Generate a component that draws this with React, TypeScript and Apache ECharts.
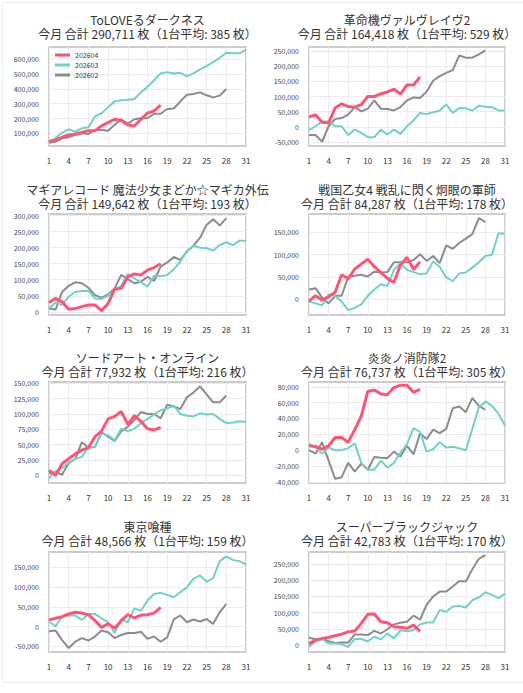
import React, { useEffect, useRef } from "react";
import * as echarts from "echarts";

const days = ["1","2","3","4","5","6","7","8","9","10","11","12","13","14","15","16","17","18","19","20","21","22","23","24","25","26","27","28","29","30","31"];
const seriesNames = ["202604", "202603", "202602"];
const seriesColors = ["#ff5574", "#6fd2ca", "#8c8c8c"];

const titles = [
  "ToLOVEるダークネス",
  "革命機ヴァルヴレイヴ2",
  "マギアレコード 魔法少女まどか☆マギカ外伝",
  "戦国乙女4 戦乱に閃く炯眼の軍師",
  "ソードアート・オンライン",
  "炎炎ノ消防隊2",
  "東京喰種",
  "スーパーブラックジャック",
];
const totals = [290711, 164418, 149642, 84287, 77932, 76737, 48566, 42783];
const averages = [385, 529, 193, 178, 216, 305, 159, 170];

// Panel 1
const p1Apr = [43000,55000,73000,89000,95000,105000,118000,118000,150000,173000,195000,186000,157000,150000,195000,236000,252000,290711];
const p1Mar = [43000,66000,105000,127000,111000,134000,141000,214000,236000,277000,316000,323000,327000,332000,377000,414000,459000,505000,514000,505000,509000,486000,505000,532000,555000,582000,611000,645000,641000,641000,664000];
const p1Feb = [36000,43000,66000,73000,89000,100000,95000,123000,123000,118000,157000,195000,164000,195000,202000,202000,232000,232000,264000,268000,316000,361000,366000,377000,357000,343000,355000,400000];
const p1Ticks = [100000,200000,300000,400000,500000,600000];
const p1Range = [14000, 684000];

// Panel 2
const p2Apr = [32600,40000,15000,13000,62000,76000,67000,65000,73000,100000,100000,109000,115000,124000,108000,138000,138000,164418];
const p2Mar = [-11000,2000,18000,18000,2000,2000,-27000,-9000,-20000,-34000,-34000,-9000,-25000,-9000,-23000,2000,22000,46000,42000,48000,53000,74000,46000,62000,61000,54000,70000,66000,65000,54000,54000];
const p2Feb = [-27000,-27000,-49000,2000,26000,29000,40000,65000,51000,60000,87000,60000,59000,54000,65000,87000,97000,95000,116000,152000,167000,178000,187000,235000,228000,228000,239000,252000];
const p2Ticks = [-50000,0,50000,100000,150000,200000,250000];
const p2Range = [-63000, 263000];

// Panel 3
const p3Apr = [28000,42000,31000,8000,10000,16000,21000,21000,4000,26000,70000,73000,109000,118000,115000,130000,138000,149642];
const p3Mar = [10000,29000,21000,47000,62000,65000,66000,42000,40000,50000,68000,81000,118000,104000,92000,78000,113000,111000,115000,133000,156000,190000,206000,200000,198000,191000,208000,217000,208000,222000,221000];
const p3Feb = [10000,7000,62000,81000,92000,89000,75000,52000,44000,54000,73000,115000,102000,89000,94000,109000,96000,141000,154000,171000,161000,188000,206000,231000,271000,289000,269000,292000];
const p3Ticks = [0,50000,100000,150000,200000,250000,300000];
const p3Range = [-10000, 305000];

// Panel 4
const p4Apr = [-4000,8000,-1500,6000,16000,55000,46000,68000,79000,90000,73000,60000,47000,38000,77000,94000,67000,84287];
const p4Mar = [-5000,-9000,-13000,11000,7500,-5000,-24000,-19000,-11000,8000,22000,34000,30000,66000,81000,66000,61000,56000,58000,85000,73000,49000,41000,58000,60000,71000,83000,97000,100000,148000,147000];
const p4Feb = [22000,25000,4000,-9000,8000,8000,51000,53000,55000,51000,62000,60000,61000,83000,83000,83000,88000,101000,86000,97000,81000,121000,113000,126000,136000,146000,182000,173000];
const p4Ticks = [0,50000,100000,150000];
const p4Range = [-35000, 191000];

// Panel 5
const p5Apr = [8000,0,19000,27000,35000,41000,45000,63000,72000,92000,96000,104000,83000,97000,88000,76000,74000,77932];
const p5Mar = [-5000,6500,12000,21000,27000,30000,46000,46000,68000,65000,57000,76000,72000,76000,85000,92000,99000,106000,109000,113000,100000,97000,96000,101000,99000,100000,92000,85000,86000,88000,87000];
const p5Feb = [3000,5500,1000,20000,27000,54000,45000,46000,70000,63000,56000,72000,79000,90000,103000,100000,100000,93000,115000,112000,108000,127000,135000,145000,132000,119000,119000,130000];
const p5Ticks = [0,25000,50000,75000,100000,125000,150000];
const p5Range = [-12500, 152000];

// Panel 6
const p6Apr = [5600,4700,1300,5600,16000,16000,10000,26000,43000,74000,76000,71000,70000,79000,82000,82000,73000,76737];
const p6Mar = [8000,3400,-4300,3400,0,0,2600,8600,-16000,-24500,-24500,-13000,-22000,-16000,-3000,7700,28000,23000,-1700,1300,10000,3400,4300,2600,0,27000,54000,61500,56000,46000,31000];
const p6Feb = [0,-4300,10000,-13000,-36000,-34000,-16000,-27000,-17000,-24500,-8600,-9500,-10000,-1700,-8000,5600,-5000,21500,14000,26000,21500,27000,53000,55000,48000,66000,56000,51000];
const p6Ticks = [-40000,-20000,0,20000,40000,60000,80000];
const p6Range = [-41300, 86000];

// Panel 7
const p7Apr = [17000,21000,25000,32000,36000,34000,30000,15000,-2000,7000,-4000,15000,30000,22000,29000,30000,34000,48566];
const p7Mar = [13000,1000,25000,28000,28000,17000,32000,32000,21000,11000,-16000,19000,11000,46000,40000,66000,82000,85000,80000,74000,87000,99000,120000,129000,113000,122000,165000,177000,168000,165000,156000];
const p7Feb = [-12000,-10000,-34000,-54000,-38000,-29000,-35000,-25000,-10000,-14000,-29000,-21000,-16000,-16000,-13000,-31000,-25000,-38000,-27000,18000,28000,11000,18000,13000,19000,7000,36000,57000];
const p7Ticks = [-50000,0,50000,100000,150000];
const p7Range = [-64000, 188000];

// Panel 8
const p8Apr = [5000,15500,21000,24000,29000,34000,41000,44000,67000,95000,96000,72000,69000,57000,55000,52000,62000,42783];
const p8Mar = [-5000,12000,19000,5000,5000,3000,-5000,19000,19000,12000,26000,18000,36000,21000,46000,43000,46000,64000,70000,70000,108000,103000,119000,121000,116000,139000,147000,163000,155000,145000,158000];
const p8Feb = [23000,18000,19000,12000,7000,8000,8000,33000,33000,31000,44000,36000,49000,64000,69000,72000,91000,79000,124000,150000,165000,165000,181000,198000,196000,234000,266000,277000];
const p8Ticks = [0,50000,100000,150000,200000,250000];
const p8Range = [-21000, 287000];

const panelSeries = [
  [p1Apr, p1Mar, p1Feb],
  [p2Apr, p2Mar, p2Feb],
  [p3Apr, p3Mar, p3Feb],
  [p4Apr, p4Mar, p4Feb],
  [p5Apr, p5Mar, p5Feb],
  [p6Apr, p6Mar, p6Feb],
  [p7Apr, p7Mar, p7Feb],
  [p8Apr, p8Mar, p8Feb],
];
const panelTicks = [p1Ticks, p2Ticks, p3Ticks, p4Ticks, p5Ticks, p6Ticks, p7Ticks, p8Ticks];
const panelRanges = [p1Range, p2Range, p3Range, p4Range, p5Range, p6Range, p7Range, p8Range];

const FONT = '"Noto Sans CJK JP", "Noto Sans", sans-serif';
const fmt = (v: number) => v.toLocaleString("en-US");

const colLefts = [49, 309];
const colWidths = [197, 196];
const rowTops = [47, 214, 382, 552];
const rowHeights = [99, 101, 101, 100];
const titleYs = [19.5, 189.5, 357.5, 526.5];

export default function App() {
  const ref = useRef<HTMLDivElement>(null);
  useEffect(() => {
    if (!ref.current) return;
    const chart = echarts.init(ref.current, null, { renderer: "svg" });
    const grids: any[] = [];
    const xAxes: any[] = [];
    const yAxes: any[] = [];
    const series: any[] = [];
    const graphics: any[] = [
      {
        type: "rect",
        shape: { x: 2.5, y: 2.5, width: 540, height: 680 },
        style: { fill: "none", stroke: "#eeeeee", lineWidth: 1 },
        silent: true,
      },
    ];
    for (let i = 0; i < 8; i++) {
      const col = i % 2;
      const row = Math.floor(i / 2);
      const left = colLefts[col];
      const width = colWidths[col];
      const top = rowTops[row];
      const height = rowHeights[row];
      const cx = left + width / 2;
      grids.push({
        left, top, width, height,
        show: true,
        borderColor: "#cccccc",
        borderWidth: 2,
        backgroundColor: "transparent",
        containLabel: false,
      });
      xAxes.push({
        type: "category",
        gridIndex: i,
        data: days,
        boundaryGap: false,
        axisLine: { show: false },
        axisTick: { show: false },
        axisLabel: { interval: 2, fontSize: 8, color: "#333", margin: 10, fontFamily: FONT },
        splitLine: { show: true, interval: 2, lineStyle: { color: "#ececec", width: 1 } },
      });
      const ticks = panelTicks[i];
      yAxes.push({
        type: "value",
        gridIndex: i,
        min: panelRanges[i][0],
        max: panelRanges[i][1],
        axisLine: { show: false },
        axisTick: { show: false, customValues: ticks },
        axisLabel: {
          customValues: ticks,
          fontSize: 7,
          color: "#444",
          margin: 10,
          fontFamily: FONT,
          formatter: (v: number) => fmt(v),
        },
        splitLine: { show: true, lineStyle: { color: "#ececec", width: 1 } },
      });
      const data = panelSeries[i];
      for (let s = 2; s >= 0; s--) {
        series.push({
          type: "line",
          name: seriesNames[s],
          xAxisIndex: i,
          yAxisIndex: i,
          data: data[s],
          symbol: "none",
          color: seriesColors[s],
          lineStyle: { color: seriesColors[s], width: s === 0 ? 3 : 2 },
          z: 5 - s,
        });
      }
      graphics.push({
        type: "text",
        x: cx,
        y: titleYs[row] + 7,
        style: {
          text: `${titles[i]}\n今月 合計 ${fmt(totals[i])} 枚（1台平均: ${averages[i]} 枚）`,
          align: "center",
          verticalAlign: "middle",
          textAlign: "center",
          textVerticalAlign: "middle",
          fontSize: 12,
          fontFamily: FONT,
          lineHeight: 14,
          fill: "#333",
        },
      });
    }
    chart.setOption({
      animation: false,
      backgroundColor: "#ffffff",
      grid: grids,
      xAxis: xAxes,
      yAxis: yAxes,
      series,
      graphic: graphics,
      legend: {
        data: seriesNames,
        orient: "vertical",
        left: 50,
        top: 46,
        icon: "rect",
        itemWidth: 15,
        itemHeight: 3,
        itemGap: 2,
        selectedMode: false,
        textStyle: { fontSize: 7, lineHeight: 8, color: "#333", fontFamily: FONT },
      },
    });
    return () => chart.dispose();
  }, []);
  return (
    <div
      ref={ref}
      style={{ position: "fixed", left: 0, top: 0, width: 523, height: 693, background: "#fff" }}
    />
  );
}
